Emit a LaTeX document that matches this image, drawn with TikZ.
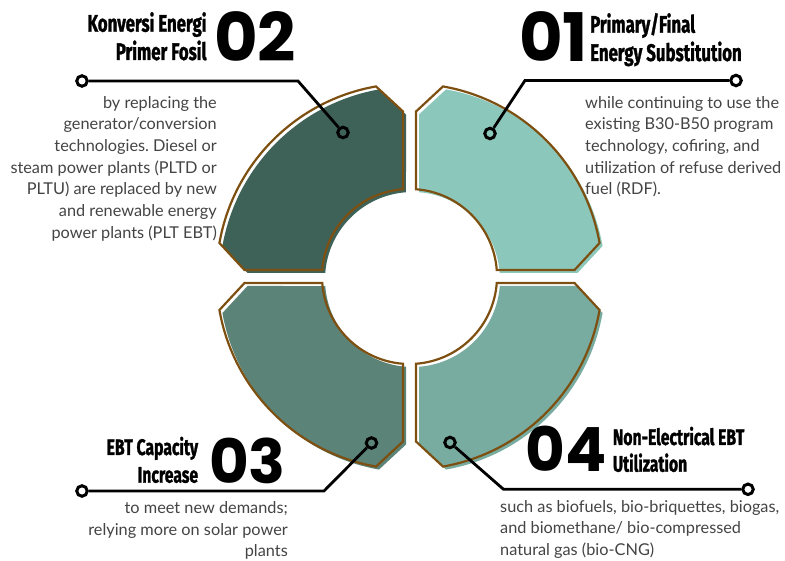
\documentclass[tikz,border=0pt]{standalone}
\usepackage{fontspec}
\setmainfont{Lato}
\newfontfamily\ttlfont{Fira Sans}[FakeStretch=0.70,FakeBold=1.2]
\newfontfamily\numfont{Poppins}
\definecolor{ringbrown}{RGB}{125,80,18}
\definecolor{cone}{RGB}{139,200,187}
\definecolor{ctwo}{RGB}{62,97,88}
\definecolor{cthree}{RGB}{91,131,120}
\definecolor{cfour}{RGB}{120,172,160}
\definecolor{bodygray}{RGB}{68,68,68}
\frenchspacing

% one quarter of the ring: coloured body offset down-right, brown outline on top
\newcommand\ringpiece[2]{%
  \begin{scope}[shift={(412.5,280.5)},rotate=#1]
    \fill[#2] (6.5,87.26) arc[start angle=85.74,end angle=4.26,radius=87.5]
      -- (165,6.5) -- (10:193) arc[start angle=10,end angle=80,radius=193]
      -- (6.5,165) -- cycle;
  \end{scope}
  \begin{scope}[shift={(409.5,283.5)},rotate=#1]
    \draw[ring] (6.5,87.26) arc[start angle=85.74,end angle=4.26,radius=87.5]
      -- (165,6.5) -- (10:193) arc[start angle=10,end angle=80,radius=193]
      -- (6.5,165) -- cycle;
  \end{scope}}

\begin{document}
\begin{tikzpicture}[x=1pt,y=1pt,
  ring/.style={line width=2.2pt,draw=ringbrown,line join=miter},
  wire/.style={line width=2.8pt,draw=black},
  dot/.style={circle,draw=black,line width=3pt,minimum size=10.5pt,inner sep=0pt},
  body/.style={font=\fontsize{16.3}{21.7}\selectfont,text=bodygray,inner sep=0pt},
  ttl/.style={font=\ttlfont\bfseries\fontsize{24}{28.5}\selectfont,inner sep=0pt},
  ttlsm/.style={font=\ttlfont\bfseries\fontsize{22.5}{27}\selectfont,inner sep=0pt},
  num/.style={font=\numfont\bfseries\fontsize{67}{67}\selectfont,inner sep=0pt},
  numsm/.style={font=\numfont\bfseries\fontsize{61}{61}\selectfont,inner sep=0pt}]
\useasboundingbox (0,0) rectangle (785,560);
\fill[white] (0,0) rectangle (785,560);

% ring quarters
\ringpiece{0}{cone}
\ringpiece{90}{ctwo}
\ringpiece{180}{cthree}
\ringpiece{270}{cfour}

% connectors
\node[dot] (d2a) at (82,479) {};
\node[dot] (d2b) at (343,427.5) {};
\coordinate (k2) at (298,479);
\draw[wire] (d2a) -- (k2) -- (d2b);

\node[dot] (d1a) at (736,479.5) {};
\node[dot] (d1b) at (490,426.5) {};
\coordinate (k1) at (525,479.5);
\draw[wire] (d1a) -- (k1) -- (d1b);

\node[dot] (d3a) at (82,69) {};
\node[dot] (d3b) at (371.5,117) {};
\coordinate (k3) at (324,69);
\draw[wire] (d3a) -- (k3) -- (d3b);

\node[dot] (d4a) at (450,117.5) {};
\node[dot] (d4b) at (748,70.7) {};
\coordinate (k4) at (503.5,70.7);
\draw[wire] (d4a) -- (k4) -- (d4b);

% big numbers
\node[num,anchor=base west] (n2) at (214,498.3) {02};
\node[num,anchor=base west] (n1) at (519,498.3) {01};
\node[numsm,anchor=base west] (n3) at (209,76.7) {03};
\node[numsm,anchor=base west] (n4) at (525.5,88.3) {04};

% titles
\node[ttl,anchor=base east] (t2a) at (206.7,528.3) {Konversi Energi};
\node[ttl,anchor=base east] (t2b) at (206.7,500) {Primer Fosil};
\node[ttl,anchor=base west] (t1a) at (590,527.3) {Primary/Final};
\node[ttl,anchor=base west] (t1b) at (590,499) {Energy Substitution};
\node[ttlsm,anchor=base east] (t3a) at (198.3,105) {EBT Capacity};
\node[ttlsm,anchor=base east] (t3b) at (198.3,77.3) {Increase};
\node[ttlsm,anchor=base west] (t4a) at (612.7,115) {Non-Electrical EBT};
\node[ttlsm,anchor=base west] (t4b) at (612.7,88.3) {Utilization};

% descriptions (base anchor sits on the last line)
\node[body,anchor=base east,align=right] (b2) at (217,321.7)
  {by replacing the\\generator/conversion\\technologies. Diesel or\\steam power plants (PLTD or\\PLTU) are replaced by new\\and renewable energy\\power plants (PLT EBT)};
\node[body,anchor=base west,align=left] (b1) at (585,365)
  {while continuing to use the\\existing B30-B50 program\\technology, cofiring, and\\utilization of refuse derived\\fuel (RDF).};
\node[body,anchor=base east,align=right] (b3) at (288,3)
  {to meet new demands;\\relying more on solar power\\plants};
\node[body,anchor=base west,align=left] (b4) at (500,4.5)
  {such as biofuels, bio-briquettes, biogas,\\and biomethane/ bio-compressed\\natural gas (bio-CNG)};
\end{tikzpicture}
\end{document}
